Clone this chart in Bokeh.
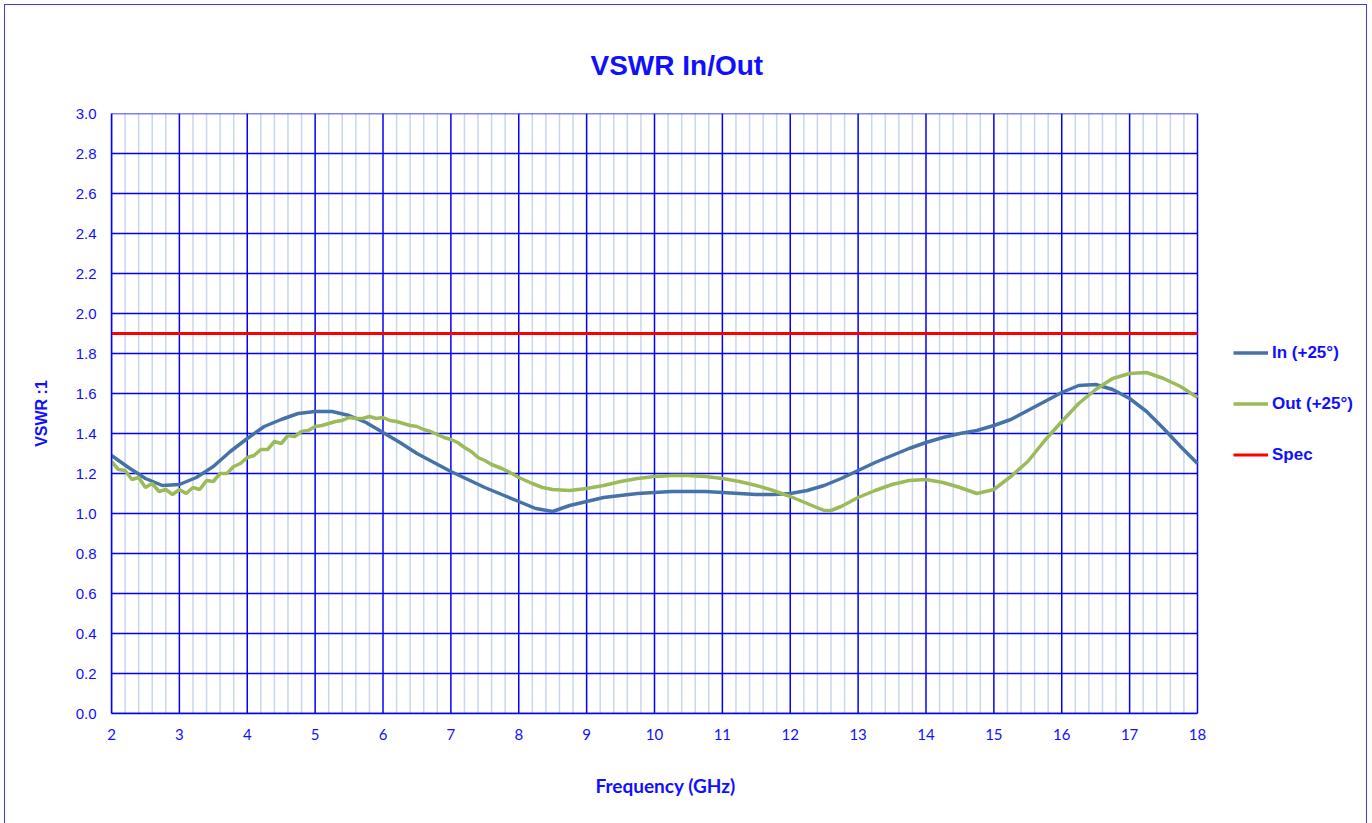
from bokeh.plotting import figure
from bokeh.models import (Range1d, SingleIntervalTicker, PrintfTickFormatter,
                          Legend, LegendItem, Title)
from bokeh.embed import file_html
from bokeh.resources import INLINE

# ---------------- data ----------------
freq_in = [2.0, 2.25, 2.5, 2.75, 3.0, 3.25, 3.5, 3.75, 4.0, 4.25, 4.5, 4.75,
           5.0, 5.25, 5.5, 5.75, 6.0, 6.25, 6.5, 6.75, 7.0, 7.25, 7.5, 7.75,
           8.0, 8.25, 8.5, 8.75, 9.0, 9.25, 9.5, 9.75, 10.0, 10.25, 10.5, 10.75,
           11.0, 11.25, 11.5, 11.75, 12.0, 12.25, 12.5, 12.75, 13.0, 13.25, 13.5,
           13.75, 14.0, 14.25, 14.5, 14.75, 15.0, 15.25, 15.5, 15.75, 16.0, 16.25,
           16.5, 16.75, 17.0, 17.25, 17.5, 17.75, 18.0]
vswr_in = [1.29, 1.23, 1.175, 1.14, 1.145, 1.18, 1.235, 1.31, 1.375, 1.435, 1.47, 1.50,
           1.51, 1.51, 1.49, 1.455, 1.405, 1.355, 1.30, 1.255, 1.21, 1.17, 1.13, 1.095,
           1.06, 1.025, 1.01, 1.04, 1.06, 1.08, 1.09, 1.10, 1.105, 1.11, 1.11, 1.11,
           1.105, 1.10, 1.095, 1.095, 1.10, 1.115, 1.14, 1.175, 1.215, 1.255, 1.29,
           1.325, 1.355, 1.38, 1.40, 1.415, 1.44, 1.47, 1.515, 1.56, 1.605, 1.64,
           1.645, 1.62, 1.575, 1.51, 1.425, 1.335, 1.25]

freq_out = [2.0, 2.1, 2.2, 2.3, 2.4, 2.5, 2.6, 2.7, 2.8, 2.9, 3.0, 3.1, 3.2, 3.3,
            3.4, 3.5, 3.6, 3.7, 3.8, 3.9, 4.0, 4.1, 4.2, 4.3, 4.4, 4.5, 4.6, 4.7,
            4.8, 4.9, 5.0, 5.1, 5.2, 5.3, 5.4, 5.5, 5.6, 5.7, 5.8, 5.9, 6.0, 6.1,
            6.2, 6.3, 6.4, 6.5, 6.6, 6.7, 6.8, 6.9, 7.0, 7.1, 7.2, 7.3, 7.4, 7.5,
            7.6, 7.75, 7.9, 8.0, 8.2, 8.35, 8.5, 8.75, 9.0, 9.25, 9.5, 9.75, 10.0,
            10.25, 10.5, 10.75, 11.0, 11.25, 11.5, 11.75, 12.0, 12.25, 12.5, 12.6,
            12.75, 13.0, 13.25, 13.5, 13.75, 14.0, 14.25, 14.5, 14.75, 15.0, 15.25,
            15.5, 15.75, 16.0, 16.25, 16.5, 16.75, 17.0, 17.25, 17.5, 17.75, 18.0]
vswr_out = [1.26, 1.22, 1.215, 1.17, 1.18, 1.13, 1.15, 1.11, 1.12, 1.095, 1.12, 1.10,
            1.13, 1.12, 1.165, 1.16, 1.20, 1.20, 1.235, 1.25, 1.28, 1.29, 1.32, 1.32,
            1.36, 1.35, 1.39, 1.385, 1.41, 1.415, 1.435, 1.44, 1.45, 1.46, 1.465, 1.48,
            1.475, 1.475, 1.485, 1.475, 1.48, 1.465, 1.46, 1.45, 1.44, 1.435, 1.42,
            1.41, 1.395, 1.38, 1.37, 1.355, 1.33, 1.31, 1.28, 1.265, 1.245, 1.225,
            1.20, 1.18, 1.15, 1.13, 1.12, 1.115, 1.125, 1.14, 1.16, 1.175, 1.185,
            1.19, 1.19, 1.185, 1.175, 1.16, 1.14, 1.115, 1.085, 1.05, 1.015, 1.015,
            1.035, 1.08, 1.115, 1.145, 1.165, 1.17, 1.155, 1.13, 1.10, 1.12, 1.185,
            1.26, 1.365, 1.46, 1.55, 1.62, 1.675, 1.70, 1.705, 1.675, 1.635, 1.58]

freq_spec = [2.0, 18.0]
vswr_spec = [1.9, 1.9]

series_names = ["In (+25°)", "Out (+25°)", "Spec"]

# axis limits / grid spacing
X_MIN, X_MAX = 2, 18
Y_MIN, Y_MAX = 0.0, 3.0
X_MAJOR_STEP, X_MINOR_PER_MAJOR = 1, 5
Y_STEP = 0.2

# ---------------- styling ----------------
TXT = "#1010ff"
BLUE_GRID = "#0000ff"
MINOR_GRID = "#c8d7ec"

FRAME_LEFT_PX = 106          # left border inside figure
FRAME_PLOT_W = 1086          # width of 2..18 GHz area in px
FRAME_W = 1255               # frame incl. legend area
px_per_x = FRAME_PLOT_W / (X_MAX - X_MIN)
x_end = X_MIN + FRAME_W / px_per_x

p = figure(frame_width=FRAME_W, frame_height=600,
           x_range=Range1d(X_MIN, x_end), y_range=Range1d(Y_MIN, Y_MAX),
           output_backend="svg", toolbar_location=None,
           min_border_left=FRAME_LEFT_PX, min_border_top=108,
           min_border_right=0, min_border_bottom=104)
p.styles = {"border-left": "1px solid #3a3aff", "border-top": "1px solid #3a3aff",
            "border-right": "1px solid #3a3aff",
            "margin-left": "4px", "margin-top": "4px"}
p.background_fill_color = "white"
p.border_fill_color = "white"
p.outline_line_color = None
p.xgrid.visible = False
p.ygrid.visible = False

# grid lines built from the tick positions
x_major = list(range(X_MIN, X_MAX + 1, X_MAJOR_STEP))
x_minor = [X_MIN + i / X_MINOR_PER_MAJOR for i in range((X_MAX - X_MIN) * X_MINOR_PER_MAJOR + 1)
           if i % X_MINOR_PER_MAJOR != 0]
n_y = int(round((Y_MAX - Y_MIN) / Y_STEP))
y_major = [round(Y_MIN + i * Y_STEP, 1) for i in range(n_y + 1)]

p.segment(x0=x_minor, y0=[Y_MIN] * len(x_minor), x1=x_minor, y1=[Y_MAX] * len(x_minor),
          line_color=MINOR_GRID, line_width=1.5)
p.segment(x0=x_major, y0=[Y_MIN] * len(x_major), x1=x_major, y1=[Y_MAX] * len(x_major),
          line_color=BLUE_GRID, line_width=1.5)
p.segment(x0=[X_MIN] * len(y_major), y0=y_major, x1=[X_MAX] * len(y_major), y1=y_major,
          line_color=BLUE_GRID, line_width=1.5)

t = Title(text="VSWR In/Out", text_font="Liberation Sans", text_font_size="28px",
          text_font_style="bold", text_color=TXT, align="left", offset=479,
          standoff=66)
p.add_layout(t, "above")

xt = SingleIntervalTicker(interval=1, num_minor_ticks=0)
yt = SingleIntervalTicker(interval=0.2, num_minor_ticks=0)
p.xaxis.ticker = xt
p.yaxis.ticker = yt
p.xaxis.bounds = (X_MIN, X_MAX)
p.yaxis.formatter = PrintfTickFormatter(format="%.1f")

for ax in (p.xaxis[0], p.yaxis[0]):
    ax.axis_line_color = BLUE_GRID
    ax.axis_line_width = 1.5
    ax.major_tick_line_color = None
    ax.minor_tick_line_color = None
    ax.major_label_text_color = TXT
    ax.axis_label_text_color = TXT
    ax.axis_label_text_font_style = "bold"

p.yaxis.major_label_text_font = "Liberation Sans"
p.yaxis.major_label_text_font_size = "15px"
p.yaxis.major_label_standoff = 9
p.yaxis.axis_label = "VSWR :1"
p.yaxis.axis_label_text_font = "Liberation Sans"
p.yaxis.axis_label_text_font_size = "16px"
p.yaxis.axis_label_standoff = 23

p.xaxis.major_label_text_font = "Lato"
p.xaxis.major_label_text_font_size = "15px"
p.xaxis.major_label_standoff = 9

xl = Title(text="Frequency (GHz)", text_font="Lato", text_font_size="19px",
           text_font_style="bold", text_color=TXT, align="left", offset=484,
           standoff=58)
p.add_layout(xl, "below")

r_in = p.line(freq_in, vswr_in, line_color="#4672A8", line_width=3.5)
r_out = p.line(freq_out, vswr_out, line_color="#9BBB59", line_width=3.5)
r_spec = p.line(freq_spec, vswr_spec, line_color="#FF0000", line_width=3)

legend = Legend(items=[LegendItem(label=series_names[0], renderers=[r_in]),
                       LegendItem(label=series_names[1], renderers=[r_out]),
                       LegendItem(label=series_names[2], renderers=[r_spec])],
                location=(1122, 248), orientation="vertical")
legend.border_line_color = None
legend.background_fill_alpha = 0
legend.label_text_font = "Liberation Sans"
legend.label_text_font_size = "17px"
legend.label_text_font_style = "bold"
legend.label_text_color = TXT
legend.glyph_width = 35
legend.glyph_height = 21
legend.label_height = 21
legend.label_standoff = 4
legend.spacing = 30
legend.padding = 0
legend.margin = 0
p.add_layout(legend)

open("out.html", "w").write(file_html(p, INLINE))
